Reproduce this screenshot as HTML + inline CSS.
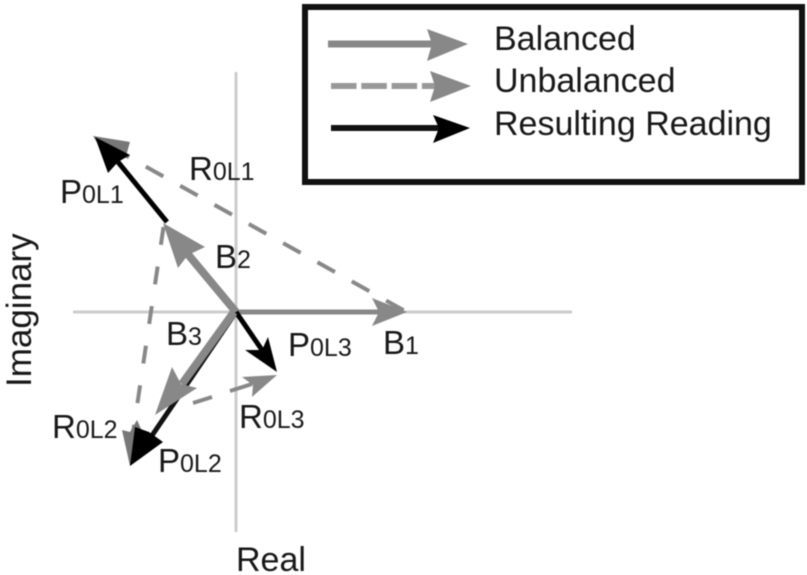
<!DOCTYPE html>
<html><head><meta charset="utf-8">
<style>html,body{margin:0;padding:0;background:#fff}svg{display:block;filter:blur(.5px)}
text{font-family:"Liberation Sans",sans-serif;fill:#181818}
.s{font-size:25px}.m{font-size:33px}.l{font-size:34px}</style></head>
<body>
<svg width="807" height="575" viewBox="0 0 807 575" xmlns="http://www.w3.org/2000/svg">
<rect x="305" y="7" width="497" height="175" fill="#fff" stroke="#111" stroke-width="6"/>
<!-- axes -->
<line x1="236" y1="72" x2="236" y2="532" stroke="#ccc" stroke-width="3"/>
<line x1="73" y1="312" x2="236" y2="312" stroke="#ccc" stroke-width="3"/>
<line x1="236" y1="312" x2="572" y2="312" stroke="#ccc" stroke-width="3"/>
<!-- dashed -->
<g stroke="#888" stroke-width="4" fill="none">
<line x1="403.6" y1="310.3" x2="125" y2="155" stroke-dasharray="20 19.3"/>
<line x1="163.5" y1="227" x2="132" y2="440" stroke-dasharray="18 22"/>
<line x1="193" y1="403" x2="212" y2="397"/>
<line x1="230" y1="391" x2="252" y2="384"/>
</g>
<!-- B1 -->
<line x1="236" y1="312" x2="385" y2="312" stroke="#888" stroke-width="5"/>
<polygon points="407,312 372,298 379,312 372,326" fill="#888"/>
<!-- R heads -->
<polygon points="93,136 130,142 126,156 108,160" fill="#777"/>
<polygon points="277,375 242,377 253,385 252,397" fill="#888"/>
<polygon points="130,466 122,430 130,432 137,420 146,440" fill="#777"/>
<!-- P -->
<line x1="236" y1="312" x2="151" y2="437" stroke="#111" stroke-width="5"/>
<polygon points="130,466 135,427 149,432 163,442" fill="#000"/>
<line x1="167" y1="222" x2="118" y2="162" stroke="#000" stroke-width="5"/>
<polygon points="95,137 130,155 118,162 108,173" fill="#000"/>
<line x1="236" y1="312" x2="262" y2="350" stroke="#000" stroke-width="5"/>
<polygon points="277,372 245,350 262,350 268,337" fill="#000"/>
<!-- B2, B3 -->
<line x1="236" y1="312" x2="186" y2="252" stroke="#888" stroke-width="8"/>
<polygon points="163,223 205,247 188,255 178,268" fill="#888"/>
<line x1="234" y1="312" x2="182" y2="384" stroke="#888" stroke-width="8"/>
<polygon points="155,415 172,367 181,384 197,388" fill="#888"/>
<!-- legend -->
<line x1="328" y1="44" x2="436" y2="44" stroke="#888" stroke-width="7"/>
<polygon points="468,44 427,29 432,44 427,61" fill="#888"/>
<line x1="331" y1="86" x2="440" y2="86" stroke="#999" stroke-width="6" stroke-dasharray="25.5 4.8"/>
<polygon points="471,86 430,71 435,86 430,102" fill="#888"/>
<line x1="331" y1="128" x2="440" y2="128" stroke="#111" stroke-width="6"/>
<polygon points="470,128 433,115 439,128 433,143" fill="#000"/>
<text x="494" y="50" class="l">Balanced</text>
<text x="494" y="92" class="l">Unbalanced</text>
<text x="494" y="135" class="l">Resulting Reading</text>
<!-- labels -->
<text x="60" y="203" class="m">P<tspan class="s">0L1</tspan></text>
<text x="189" y="180" class="m">R<tspan class="s">0L1</tspan></text>
<text x="215" y="268" class="m">B<tspan class="s">2</tspan></text>
<text x="166" y="345" class="m">B<tspan class="s">3</tspan></text>
<text x="288" y="356" class="m">P<tspan class="s">0L3</tspan></text>
<text x="383" y="354" class="m">B<tspan class="s">1</tspan></text>
<text x="239" y="428" class="m">R<tspan class="s">0L3</tspan></text>
<text x="52" y="438" class="m">R<tspan class="s">0L2</tspan></text>
<text x="158" y="472" class="m">P<tspan class="s">0L2</tspan></text>
<text x="236" y="571" class="l">Real</text>
<text transform="translate(31,387) rotate(-90)" style="font-size:35px">Imaginary</text>
</svg>
</body></html>
